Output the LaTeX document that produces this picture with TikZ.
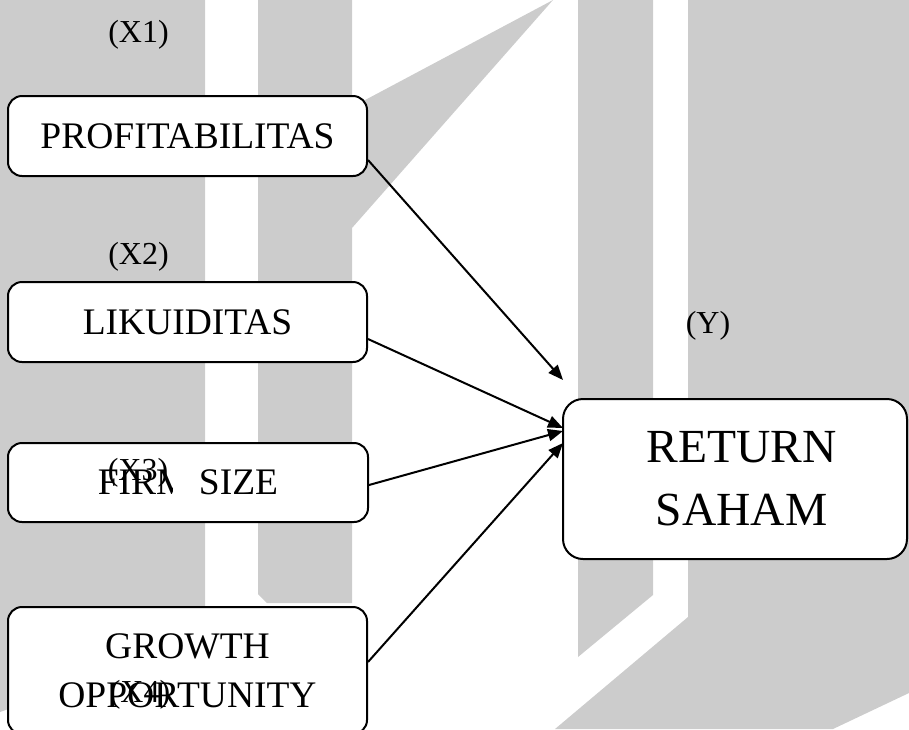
\documentclass[tikz,border=0pt]{standalone}
\usepackage{fontspec}
\setmainfont{Liberation Serif}
\usetikzlibrary{arrows.meta,calc}
\definecolor{wm}{RGB}{204,204,204}
\tikzset{
  varbox/.style={draw=black, line width=2pt, fill=white, rounded corners=14pt,
    minimum width=359pt, minimum height=80pt, inner sep=0pt,
    font=\fontsize{37.5}{43}\selectfont},
  varlabel/.style={font=\fontsize{32}{38}\selectfont, anchor=base, inner sep=0pt},
  link/.style={line width=2pt, -{Triangle[length=15pt,width=12pt]}},
  wmark/.style={fill=wm, draw=none}
}
\begin{document}
\begin{tikzpicture}[x=1pt,y=-1pt]
\useasboundingbox (0,0) rectangle (909,729);
% watermark
\fill[wmark] (0,0) -- (205,0) -- (205,640) -- (0,712) -- cycle;
\fill[wmark] (258,0) -- (352,0) -- (352,107) -- (553,0) -- (352,228) -- (352,603) -- (267,603) -- (258,594) -- cycle;
\fill[wmark] (578,0) -- (653,0) -- (653,595) -- (578,657) -- cycle;
\fill[wmark] (688,0) -- (909,0) -- (909,693) -- (833,729) -- (555,729) -- (688,617) -- cycle;
% boxes
\node[varbox] (p) at (187.5,136) {PROFITABILITAS};
\node[varbox] (l) at (187.5,322) {LIKUIDITAS};
\node[varbox, minimum width=360pt, minimum height=79pt] (f) at (188,482.5) {FIRM SIZE};
\fill[white] (173,460) rectangle (194,500);
\node[varbox, minimum height=127pt, align=center, font=\fontsize{37.5}{49}\selectfont] (g) at (187.5,670.5) {GROWTH\\OPPORTUNITY};
\node[varbox, minimum width=344pt, minimum height=160pt, rounded corners=20pt, align=center, font=\fontsize{47.5}{63}\selectfont] (r) at (735,479) {\hspace*{13pt}RETURN\\\hspace*{13pt}SAHAM};
% labels
\node[varlabel] (x1) at (138.5,42) {(X1)};
\node[varlabel] (x2) at (138.5,264) {(X2)};
\node[varlabel] (x3) at (138,480) {(X3)};
\node[varlabel] (x4) at (140,702) {(X4)};
\node[varlabel] (yl) at (708,333) {(Y)};
% arrows
\coordinate (t1) at (563,380);
\coordinate (t2) at (563,428);
\coordinate (t3) at (563,431);
\coordinate (t4) at (563,443);
\draw[link] ($(p.east)+(0,24)$) -- (t1);
\draw[link] ($(l.east)+(0,17)$) -- (t2);
\draw[link] ($(f.east)+(0,2.5)$) -- (t3);
\draw[link] ($(g.east)+(0,-8.5)$) -- (t4);
\end{tikzpicture}
\end{document}
